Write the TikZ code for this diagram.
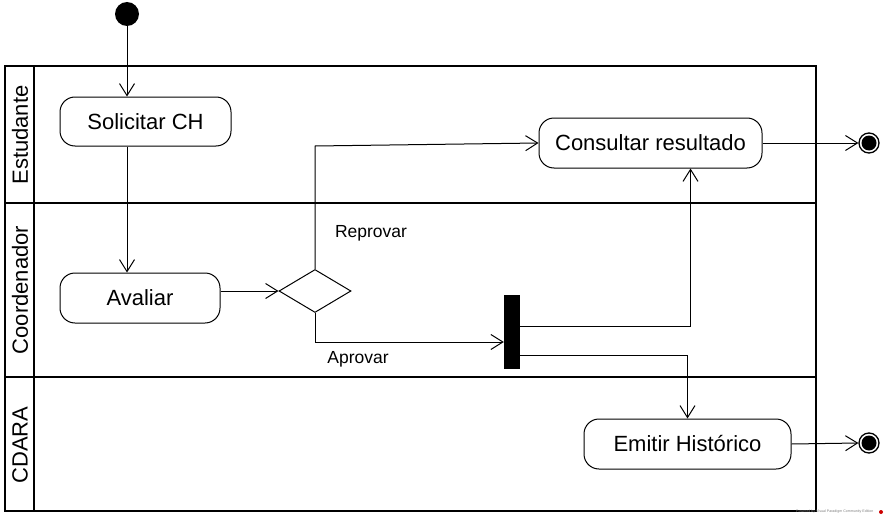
\documentclass[tikz,border=0pt]{standalone}
\usepackage{fontspec}
\setmainfont{Liberation Sans}
\usepackage{tikz}
\usetikzlibrary{calc,arrows.meta,shapes.geometric}

\tikzset{
  acao/.style={draw, rounded corners=15pt, line width=1pt, inner sep=0pt,
    font=\fontsize{22}{26}\selectfont},
  flow/.style={line width=1pt, -{Straight Barb[length=12pt,width=15pt,line width=1pt]}},
  raia/.style={line width=2.5pt},
  guarda/.style={font=\fontsize{17.5}{21}\selectfont},
  fimnode/.style={circle, draw, line width=1.3pt, minimum size=20pt, inner sep=0pt,
    path picture={\fill[black] (path picture bounding box.center) circle (7.5pt);}}
}

\begin{document}
\begin{tikzpicture}[x=1pt,y=-1pt]
            \useasboundingbox (0,0) rectangle (886,519);
            % raias
            \draw[raia] (5,66) rectangle (816,511);
            \draw[raia] (34,66) -- (34,511);
            \draw[raia] (5,203) -- (816,203);
            \draw[raia] (5,377) -- (816,377);
            \node[rotate=90, font=\fontsize{22}{26}\selectfont] (est) at (20,135) {Estudante};
            \node[rotate=90, font=\fontsize{22}{26}\selectfont] (coo) at (20,290) {Coordenador};
            \node[rotate=90, font=\fontsize{22}{26}\selectfont] (cda) at (20,445) {CDARA};
            % nos
            \node[circle, fill=black, minimum size=24pt, inner sep=0pt] (ini) at (127,14) {};
            \node[acao, minimum width=171pt, minimum height=49pt] (solic) at (145.5,121.5) {Solicitar CH};
            \node[acao, minimum width=160pt, minimum height=50pt] (aval) at (140,298) {Avaliar};
            \node[diamond, draw, line width=1pt, minimum width=72pt, minimum height=43pt, inner sep=0pt] (dec) at (315,291) {};
            \node[acao, minimum width=223pt, minimum height=50pt] (cons) at (650.5,143) {Consultar resultado};
            \node[acao, minimum width=207pt, minimum height=50pt] (emit) at (687.5,444) {Emitir Hist\'orico};
            \node[fill=black, minimum width=16pt, minimum height=74pt, inner sep=0pt] (barra) at (512,332) {};
            \node[fimnode] (fim1) at (869,143) {};
            \node[fimnode] (fim2) at (869,443) {};
            % fluxos
            \draw[flow] (ini.south) -- (ini.south |- solic.north);
            \draw[flow] (solic.south -| ini.south) -- (aval.north -| ini.south);
            \draw[flow] (aval.east |- dec.west) -- (dec.west);
            \draw[flow] (dec.north) -- ++(0,-123) -- (cons.west);
            \draw[flow] (dec.south) |- ([yshift=-10pt]barra.west);
            \draw[flow] ([yshift=6pt]barra.east) -| ([xshift=40pt]cons.south);
            \draw[flow] ([yshift=-23pt]barra.east) -| (emit.north);
            \draw[flow] (cons.east) -- (fim1.west);
            \draw[flow] (emit.east) -- (fim2.west);
            \node[guarda] (rep) at (371,233) {Reprovar};
            \node[guarda] (apr) at (358,359) {Aprovar};
            % marca
            \node[text=gray, font=\fontsize{3.6}{4}\selectfont, anchor=east] (marca) at (877,512) {Powered by Visual Paradigm Community Edition};
            \fill[red!80!black] (881,512) circle (2pt);
        \end{tikzpicture}
\end{document}
